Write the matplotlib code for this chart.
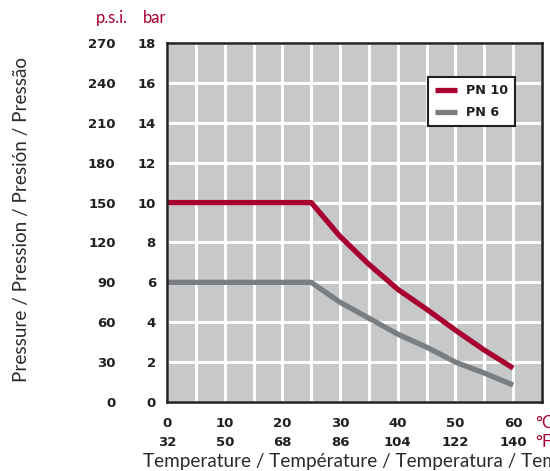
import matplotlib
matplotlib.use("Agg")
import matplotlib.pyplot as plt
import numpy as np

# Data
temp_c = [0, 25, 30, 35, 40, 45, 50, 55, 60]
pn10 = [10, 10, 8.3, 6.9, 5.65, 4.65, 3.6, 2.6, 1.7]
pn6 = [6, 6, 5.0, 4.2, 3.4, 2.75, 2.0, 1.45, 0.85]
bar_ticks = [0, 2, 4, 6, 8, 10, 12, 14, 16, 18]
psi_ticks = [0, 30, 60, 90, 120, 150, 180, 210, 240, 270]
c_ticks = [0, 10, 20, 30, 40, 50, 60]
f_ticks = [32, 50, 68, 86, 104, 122, 140]
series_labels = ["PN 10", "PN 6"]

RED = "#A8002F"
GREY = "#7A7E80"
DARK = "#231F20"
BG = "#C6C8C9"

fig = plt.figure(figsize=(5.5, 4.71), dpi=100)
ax = fig.add_axes([167/550, 1-402/471, 375/550, 359/471])
ax.set_facecolor(BG)
ax.set_xlim(0, 65)
ax.set_ylim(0, 18)

ax.set_xticks(np.arange(0, 66, 5), minor=True)
ax.set_yticks(bar_ticks)
ax.set_xticks(c_ticks)
ax.grid(True, which="both", color="white", lw=2.2)
ax.set_axisbelow(True)
ax.tick_params(which="both", length=0)

ax.plot(temp_c, pn10, color=RED, lw=3.8, solid_capstyle="butt", solid_joinstyle="round",
        label=series_labels[0])
ax.plot(temp_c, pn6, color=GREY, lw=3.8, solid_capstyle="butt", solid_joinstyle="round",
        label=series_labels[1])

for s in ax.spines.values():
    s.set_color(DARK)
    s.set_linewidth(1.8)

tick_font = dict(family="DejaVu Sans", weight="bold", size=9.5)
ax.set_yticklabels([str(b) for b in bar_ticks], fontdict=tick_font, color=DARK)
ax.tick_params(axis="y", pad=8)
ax.set_xticklabels([str(c) for c in c_ticks], fontdict=tick_font, color=DARK)
ax.tick_params(axis="x", pad=11)

secy = ax.secondary_yaxis("left", functions=(lambda b: b*15, lambda p: p/15))
secy.set_yticks(psi_ticks)
secy.set_yticklabels([str(p) for p in psi_ticks], fontdict=tick_font, color=DARK)
secy.tick_params(length=0, pad=37)
secy.spines["left"].set_visible(False)

secx = ax.secondary_xaxis("bottom", functions=(lambda c: c*9/5+32, lambda f: (f-32)*5/9))
secx.set_xticks(f_ticks)
secx.set_xticklabels([str(f) for f in f_ticks], fontdict=tick_font, color=DARK)
secx.tick_params(length=0, pad=24.5)
secx.spines["bottom"].set_visible(False)

leg = ax.legend(loc="upper left", bbox_to_anchor=(0.696, 0.905), frameon=True,
                fancybox=False, prop=dict(family="DejaVu Sans", weight="bold", size=9.2),
                handlelength=1.7, handletextpad=0.7, borderpad=0.55, labelspacing=0.7,
                borderaxespad=0)
leg.get_frame().set_edgecolor(DARK)
leg.get_frame().set_linewidth(1.5)
leg.get_frame().set_facecolor("white")
leg.get_frame().set_alpha(1)
for t in leg.get_texts():
    t.set_color(DARK)

lab_font = dict(family="Lato", weight="normal")
fig.text(128/550, 1-18/471, "p.s.i.", color=RED, ha="right", va="center", fontsize=12, **lab_font)
fig.text(143/550, 1-18/471, "bar", color=RED, ha="left", va="center", fontsize=12, **lab_font)
fig.text(535/550, 1-423/471, "°C", color=RED, ha="left", va="center", fontsize=12, **lab_font)
fig.text(535/550, 1-442/471, "°F", color=RED, ha="left", va="center", fontsize=12, **lab_font)
fig.text(22/550, 1-220/471, "Pressure / Pression / Presión / Pressão", rotation=90,
         ha="center", va="center", color="#2b2b2b", fontsize=13.6, **lab_font)
fig.text(143/550, 1-462/471, "Temperature / Température / Temperatura / Temperatur",
         ha="left", va="center", color="#2b2b2b", fontsize=13.6, **lab_font)

fig.savefig("out.png", dpi=100)
